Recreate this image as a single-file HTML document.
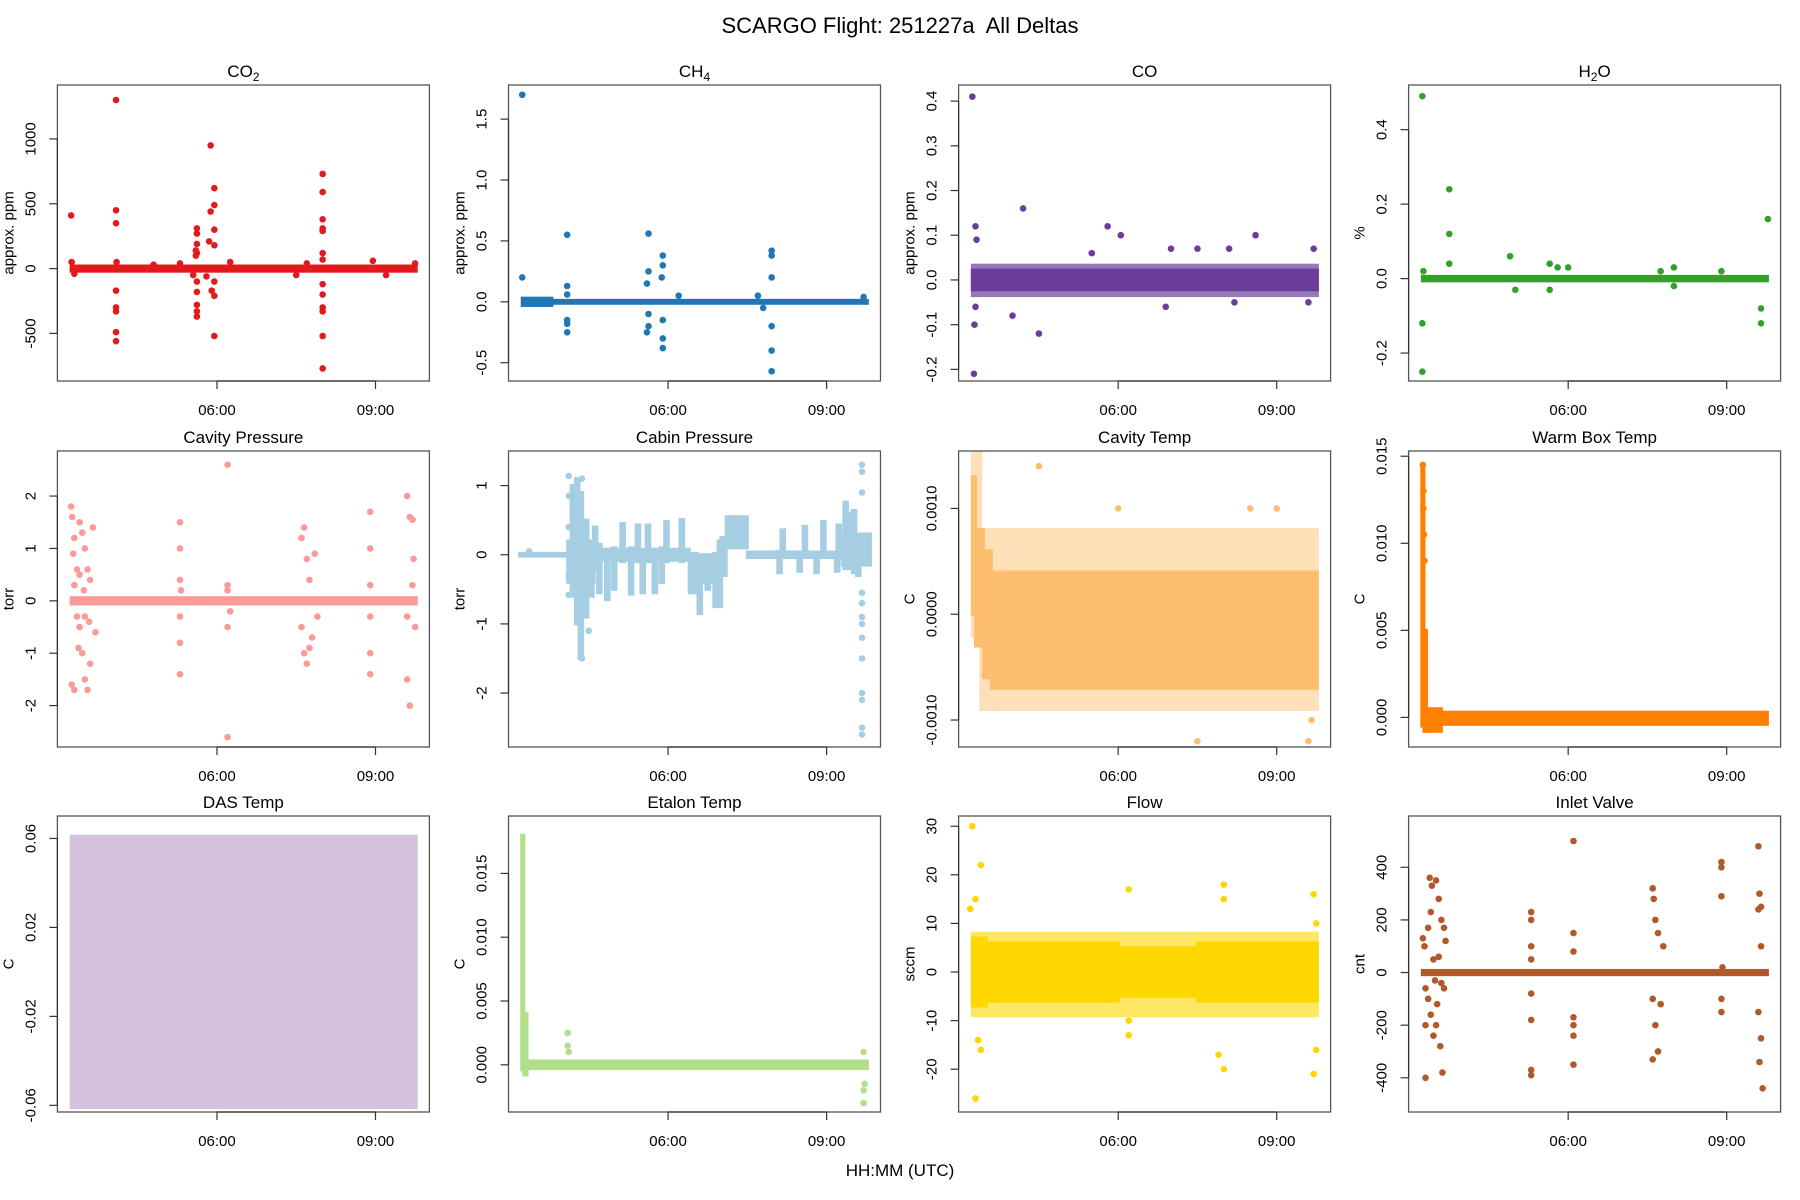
<!DOCTYPE html>
<html><head><meta charset="utf-8"><title>SCARGO Flight 251227a All Deltas</title>
<style>
html,body{margin:0;padding:0;background:#fff;}
svg{display:block;font-family:"Liberation Sans",Arial,sans-serif;}
</style></head>
<body>
<svg id="fig" width="1800" height="1200" viewBox="0 0 1800 1200" xmlns="http://www.w3.org/2000/svg">
<text x="900" y="33" font-size="22" text-anchor="middle" fill="#000" xml:space="preserve" style="white-space:pre">SCARGO Flight: 251227a  All Deltas</text>
<text x="900" y="1176" font-size="17" text-anchor="middle" fill="#000">HH:MM (UTC)</text>
</svg>
<script>
// ---- data (time in decimal hours UTC, values in panel units) ----
const xTickVals = [6, 9];
const xTickLabels = ["06:00", "09:00"];

const co2BandT = [3.24, 9.77];
const co2BandHi = [20, 20];
const co2BandLo = [-20, -20];
const co2Points = [[3.24,410],[4.09,1300],[4.09,450],[4.09,350],[4.09,-170],[4.09,-300],[4.09,-330],[4.09,-490],[4.09,-560],
 [5.62,310],[5.62,270],[5.62,190],[5.6,140],[5.62,120],[5.6,100],[5.62,-100],[5.62,-180],[5.62,-280],[5.62,-330],[5.62,-370],
 [5.88,950],[5.95,620],[5.95,490],[5.88,440],[5.95,300],[5.85,210],[5.95,180],[5.95,-100],[5.9,-170],[5.95,-210],[5.95,-520],
 [8.0,730],[8.0,590],[8.0,380],[8.0,310],[8.0,290],[8.0,120],[8.0,70],[8.0,-120],[8.0,-200],[8.0,-300],[8.0,-330],[8.0,-520],[8.0,-770],
 [3.25,50],[4.1,50],[5.3,40],[5.55,-50],[5.8,-60],[6.25,50],[7.5,-50],[7.7,40],[8.95,60],[9.75,40],[9.2,-50],[3.3,-40],[4.8,30]];

const ch4BandT = [3.24, 3.8, 9.77];
const ch4BandHi = [0.03, 0.012, 0.012];
const ch4BandLo = [-0.03, -0.012, -0.012];
const ch4Points = [[3.24,1.7],[3.24,0.2],[4.09,0.55],[4.09,0.13],[4.09,0.06],[4.09,-0.15],[4.09,-0.18],[4.09,-0.25],
 [5.63,0.56],[5.63,0.25],[5.6,0.15],[5.63,-0.1],[5.63,-0.2],[5.6,-0.25],[5.9,0.38],[5.9,0.3],[5.88,0.2],[5.9,-0.15],[5.9,-0.3],[5.9,-0.38],
 [7.96,0.42],[7.96,0.38],[7.96,0.2],[7.96,-0.2],[7.96,-0.4],[7.96,-0.57],[7.7,0.05],[7.8,-0.05],[6.2,0.05],[9.7,0.04]];

const coBandT = [3.24, 9.77];
const coBandHi = [0.022, 0.022];
const coBandLo = [-0.022, -0.022];
const coOuterT = [3.24, 9.77];
const coOuterHi = [0.033, 0.033];
const coOuterLo = [-0.035, -0.035];
const coPoints = [[3.24,0.41],[3.3,0.12],[3.28,-0.1],[3.27,-0.21],[3.32,0.09],[3.3,-0.06],[4.2,0.16],[4.5,-0.12],[4.0,-0.08],
 [5.8,0.12],[6.05,0.1],[7.0,0.07],[7.5,0.07],[8.1,0.07],[8.6,0.1],[9.7,0.07],[5.5,0.06],[6.9,-0.06],[8.2,-0.05],[9.6,-0.05]];

const h2oBandT = [3.24, 9.77];
const h2oBandHi = [0.006, 0.006];
const h2oBandLo = [-0.006, -0.006];
const h2oPoints = [[3.24,0.49],[3.24,-0.12],[3.24,-0.25],[3.26,0.02],[3.75,0.24],[3.75,0.12],[3.75,0.04],[4.9,0.06],[5.0,-0.03],
 [5.65,0.04],[5.65,-0.03],[5.8,0.03],[6.0,0.03],[7.75,0.02],[8.0,0.03],[8.0,-0.02],[8.9,0.02],[9.65,-0.08],[9.65,-0.12],[9.78,0.16]];

const cavpBandT = [3.24, 9.77];
const cavpBandHi = [0.06, 0.06];
const cavpBandLo = [-0.06, -0.06];
const cavpPoints = [[3.24,1.8],[3.26,1.6],[3.3,1.2],[3.35,0.6],[3.25,-1.6],[3.3,-1.7],[3.4,1.5],[3.45,1.3],[3.5,1.0],[3.55,0.6],[3.4,-0.5],[3.45,-1.0],
 [3.5,-1.5],[3.55,-1.7],[3.6,-1.2],[3.3,0.3],[3.35,-0.3],[3.4,0.5],[3.5,-0.3],[3.6,0.4],[3.65,1.4],[3.7,-0.6],[3.28,0.9],[3.38,-0.9],[3.48,0.2],[3.58,-0.4],
 [5.3,1.5],[5.3,1.0],[5.3,0.4],[5.3,-0.3],[5.3,-0.8],[5.3,-1.4],[5.32,0.2],
 [6.2,2.6],[6.2,0.3],[6.2,0.2],[6.2,-0.5],[6.2,-2.6],[6.25,-0.2],
 [7.6,1.2],[7.65,1.4],[7.7,0.8],[7.75,0.4],[7.6,-0.5],[7.65,-1.0],[7.7,-1.2],[7.8,-0.7],[7.85,0.9],[7.9,-0.3],[7.75,-0.9],
 [8.9,1.7],[8.9,1.0],[8.9,0.3],[8.9,-0.3],[8.9,-1.0],[8.9,-1.4],
 [9.6,2.0],[9.65,1.6],[9.7,1.55],[9.6,-1.5],[9.65,-2.0],[9.7,0.3],[9.6,-0.3],[9.75,-0.5],[9.72,0.8]];

const cabpBandT = [3.19, 4.1, 4.6, 6.4, 6.55, 7.0, 7.1, 7.5, 9.3, 9.83];
const cabpBandHi = [0.02, 0.2, 0.08, 0.02, 0.0, 0.25, 0.55, 0.04, 0.3];
const cabpBandLo = [-0.02, -0.4, -0.08, -0.55, -0.4, -0.3, 0.1, -0.04, -0.15];
const cabpSpikeT = [4.2,4.28,4.35,4.45,4.55,4.62,4.7,4.85,4.98,5.14,5.3,5.43,5.52,5.62,5.75,5.88,5.97,6.26,6.6,6.75,6.9,6.98,8.11,8.17,8.49,8.59,8.81,8.94,9.2,9.23,9.36,9.45,9.52,9.6];
const cabpSpikeHi = [1.0,1.1,0.9,0.5,0.15,0.4,0.15,0.05,0.1,0.45,0.1,0.43,0.05,0.43,0.05,0.1,0.48,0.51,-0.05,0.0,0.02,0.2,0.05,0.36,0.0,0.41,0.0,0.48,0.0,0.43,0.76,0.6,0.64,0.2];
const cabpSpikeLo = [-0.6,-1.0,-1.5,-0.9,-0.6,-0.2,-0.55,-0.65,-0.5,-0.1,-0.57,-0.1,-0.55,-0.1,-0.55,-0.4,-0.1,-0.1,-0.85,-0.5,-0.75,-0.75,-0.26,0.0,-0.24,0.0,-0.26,0.0,-0.24,0.0,-0.2,-0.2,-0.26,-0.3];
const cabpPoints = [[9.67,1.3],[9.67,1.2],[9.67,0.9],[9.67,-0.55],[9.67,-0.7],[9.67,-0.9],[9.67,-1.0],[9.67,-1.2],[9.67,-1.5],[9.67,-2.0],[9.67,-2.1],[9.67,-2.5],[9.67,-2.6],
 [4.12,1.14],[4.12,0.85],[4.12,0.4],[4.12,-0.3],[4.12,-0.58],[4.37,1.1],[4.37,-1.5],[4.5,-1.1],[3.37,0.05]];

const cavtBandT = [3.24, 3.3, 3.45, 3.6, 9.77];
const cavtBandHi = [0.0013, 0.0008, 0.0006, 0.0004, 0.0004];
const cavtBandLo = [0.0, -0.0003, -0.0006, -0.0007, -0.0007];
const cavtOuterT = [3.24, 3.4, 9.77];
const cavtOuterHi = [0.0016, 0.0008, 0.0008];
const cavtOuterLo = [-0.0002, -0.0009, -0.0009];
const cavtPoints = [[3.26,0.0018],[3.27,0.0016],[4.5,0.0014],[7.5,-0.0012],[9.6,-0.0012],[9.66,-0.0010],[6.0,0.0010],[8.5,0.0010],[9.0,0.0010]];

const wbBandT = [3.23, 3.27, 3.32, 3.6, 9.77];
const wbBandHi = [0.0145, 0.005, 0.0005, 0.0003, 0.0003];
const wbBandLo = [-0.0005, -0.0008, -0.0008, -0.0004, -0.0004];
const wbPoints = [[3.25,0.0145],[3.26,0.013],[3.26,0.012],[3.27,0.0105],[3.28,0.009]];

const dasBandT = [3.24, 9.77];
const dasBandHi = [0.061, 0.061];
const dasBandLo = [-0.061, -0.061];
const dasPoints = [];

const etBandT = [3.23, 3.27, 3.33, 9.77];
const etBandHi = [0.018, 0.004, 0.0003, 0.0003];
const etBandLo = [-0.0004, -0.0008, -0.0003, -0.0003];
const etPoints = [[4.1,0.0025],[4.1,0.0015],[4.12,0.001],[9.7,-0.002],[9.7,-0.003],[9.7,0.001],[9.72,-0.0015]];

const flowBandT = [3.24, 3.5, 6.0, 7.5, 9.77];
const flowBandHi = [7, 6, 5, 6, 6];
const flowBandLo = [-7, -6, -5, -6, -6];
const flowOuterT = [3.24, 9.77];
const flowOuterHi = [8, 8];
const flowOuterLo = [-9, -9];
const flowPoints = [[3.24,30],[3.4,22],[3.3,15],[3.35,-14],[3.4,-16],[3.3,-26],[3.2,13],[6.2,17],[6.2,-13],[6.2,-10],[8.0,15],[8.0,18],
 [7.9,-17],[8.0,-20],[9.7,16],[9.7,-21],[9.75,-16],[9.75,10]];

const inletBandT = [3.24, 9.77];
const inletBandHi = [8, 8];
const inletBandLo = [-8, -8];
const inletPoints = [[3.25,130],[3.28,100],[3.3,-200],[3.3,-400],[3.35,170],[3.38,360],[3.4,-160],[3.42,330],[3.45,50],[3.48,-30],[3.5,350],[3.52,-120],
 [3.55,280],[3.58,-280],[3.6,200],[3.62,-380],[3.65,-60],[3.68,120],[3.3,-60],[3.35,-100],[3.45,-240],[3.55,60],[3.6,-40],[3.4,230],[3.5,-200],[3.65,170],
 [5.3,230],[5.3,200],[5.3,100],[5.3,50],[5.3,-80],[5.3,-180],[5.3,-370],[5.3,-390],
 [6.1,500],[6.1,150],[6.1,80],[6.1,-170],[6.1,-200],[6.1,-240],[6.1,-350],
 [7.6,320],[7.62,280],[7.65,200],[7.7,150],[7.6,-100],[7.65,-200],[7.7,-300],[7.6,-330],[7.75,-120],[7.8,100],
 [8.9,420],[8.9,400],[8.9,290],[8.9,-100],[8.9,-150],[8.92,20],
 [9.6,480],[9.62,300],[9.65,250],[9.6,240],[9.65,100],[9.6,-150],[9.65,-250],[9.62,-340],[9.68,-440]];

// ---- layout ----
const colX = [57.4, 508.5, 958.6, 1408.6];
const rowY = [85, 451, 816];
const PW = 372, PH = 296;
const XMIN = 2.98, XMAX = 10.02;
const R = 3.3;
const PAD = 1.5;

const panels = [
  {name:"co2", title:["CO","2",""], ylab:"approx. ppm", color:"#E31A1C", ylim:[-867,1416], ticks:[-500,0,500,1000], tl:["-500","0","500","1000"], bT:co2BandT,bH:co2BandHi,bL:co2BandLo, pts:co2Points},
  {name:"ch4", title:["CH","4",""], ylab:"approx. ppm", color:"#1F78B4", ylim:[-0.65,1.78], ticks:[-0.5,0,0.5,1,1.5], tl:["-0.5","0.0","0.5","1.0","1.5"], bT:ch4BandT,bH:ch4BandHi,bL:ch4BandLo, pts:ch4Points},
  {name:"co", title:["CO","",""], ylab:"approx. ppm", color:"#6A3D9A", ylim:[-0.226,0.436], ticks:[-0.2,-0.1,0,0.1,0.2,0.3,0.4], tl:["-0.2","-0.1","0.0","0.1","0.2","0.3","0.4"], bT:coBandT,bH:coBandHi,bL:coBandLo, oT:coOuterT,oH:coOuterHi,oL:coOuterLo, oOp:0.7, pts:coPoints},
  {name:"h2o", title:["H","2","O"], ylab:"%", color:"#33A02C", ylim:[-0.275,0.52], ticks:[-0.2,0,0.2,0.4], tl:["-0.2","0.0","0.2","0.4"], bT:h2oBandT,bH:h2oBandHi,bL:h2oBandLo, pts:h2oPoints},
  {name:"cavity-pressure", title:["Cavity Pressure","",""], ylab:"torr", color:"#FB9A99", ylim:[-2.79,2.86], ticks:[-2,-1,0,1,2], tl:["-2","-1","0","1","2"], bT:cavpBandT,bH:cavpBandHi,bL:cavpBandLo, pts:cavpPoints},
  {name:"cabin-pressure", title:["Cabin Pressure","",""], ylab:"torr", color:"#A6CEE3", ylim:[-2.78,1.5], ticks:[-2,-1,0,1], tl:["-2","-1","0","1"], bT:cabpBandT,bH:cabpBandHi,bL:cabpBandLo, sT:cabpSpikeT,sH:cabpSpikeHi,sL:cabpSpikeLo, pts:cabpPoints},
  {name:"cavity-temp", title:["Cavity Temp","",""], ylab:"C", color:"#FDBF6F", ylim:[-0.001255,0.001543], ticks:[-0.001,0,0.001], tl:["-0.0010","0.0000","0.0010"], bT:cavtBandT,bH:cavtBandHi,bL:cavtBandLo, oT:cavtOuterT,oH:cavtOuterHi,oL:cavtOuterLo, oOp:0.5, pts:cavtPoints},
  {name:"warm-box-temp", title:["Warm Box Temp","",""], ylab:"C", color:"#FF7F00", ylim:[-0.0017,0.0153], ticks:[0,0.005,0.01,0.015], tl:["0.000","0.005","0.010","0.015"], bT:wbBandT,bH:wbBandHi,bL:wbBandLo, pts:wbPoints},
  {name:"das-temp", title:["DAS Temp","",""], ylab:"C", color:"#CAB2D6", ylim:[-0.063,0.0701], ticks:[-0.06,-0.02,0.02,0.06], tl:["-0.06","-0.02","0.02","0.06"], bT:dasBandT,bH:dasBandHi,bL:dasBandLo, bOp:0.8, pts:dasPoints},
  {name:"etalon-temp", title:["Etalon Temp","",""], ylab:"C", color:"#B2DF8A", ylim:[-0.0037,0.0195], ticks:[0,0.005,0.01,0.015], tl:["0.000","0.005","0.010","0.015"], bT:etBandT,bH:etBandHi,bL:etBandLo, pts:etPoints},
  {name:"flow", title:["Flow","",""], ylab:"sccm", color:"#FFD700", ylim:[-28.8,32.1], ticks:[-20,-10,0,10,20,30], tl:["-20","-10","0","10","20","30"], bT:flowBandT,bH:flowBandHi,bL:flowBandLo, oT:flowOuterT,oH:flowOuterHi,oL:flowOuterLo, oOp:0.6, pts:flowPoints},
  {name:"inlet-valve", title:["Inlet Valve","",""], ylab:"cnt", color:"#B15928", ylim:[-530,595], ticks:[-400,-200,0,200,400], tl:["-400","-200","0","200","400"], bT:inletBandT,bH:inletBandHi,bL:inletBandLo, pts:inletPoints}
];

const NS = "http://www.w3.org/2000/svg";
const svg = document.getElementById("fig");
function mk(tag, attrs, parent){ const e=document.createElementNS(NS,tag); for(const k in attrs) e.setAttribute(k,attrs[k]); parent.appendChild(e); return e; }

panels.forEach((p, i) => {
  const px = colX[i % 4], py = rowY[Math.floor(i / 4)];
  const xs = t => px + (t - XMIN) / (XMAX - XMIN) * PW;
  const ys = v => py + PH - (v - p.ylim[0]) / (p.ylim[1] - p.ylim[0]) * PH;
  const g = mk("g", {}, svg);
  
  

  const tt = mk("text", {x: px + PW/2, y: py - 8, "font-size": 17, "text-anchor": "middle", fill: "#000"}, g);
  
  
  tt.appendChild(document.createTextNode(p.title[0]));
  if (p.title[1]) { const s = mk("tspan", {"font-size": 12, dy: 4}, tt); s.textContent = p.title[1]; }
  if (p.title[2]) { const s = mk("tspan", {dy: -4}, tt); s.textContent = p.title[2]; }

  const clip = "clip" + i;
  const cp = mk("clipPath", {id: clip}, g);
  mk("rect", {x: px, y: py, width: PW, height: PH}, cp);
  const dg = mk("g", {"clip-path": "url(#" + clip + ")"}, g);
  
  

  function bar(x0, x1, hi, lo, op, nm){
    const y0 = ys(hi) - PAD, y1 = ys(lo) + PAD;
    const r = mk("rect", {x: x0, y: y0, width: Math.max(1, x1 - x0), height: Math.max(1, y1 - y0), fill: p.color, "fill-opacity": op}, dg);
    
    
  }
  function bands(T, H, L, op, nm){
    for (let k = 0; k < T.length - 1; k++) bar(xs(T[k]) - PAD, xs(T[k+1]) + PAD, H[k], L[k], op, nm);
  }
  if (p.oT) bands(p.oT, p.oH, p.oL, p.oOp, p.name + '-scatter-envelope');
  bands(p.bT, p.bH, p.bL, p.bOp || 1, p.name + '-dense-band');
  if (p.sT) p.sT.forEach((t, k) => bar(xs(t) - R, xs(t) + R, p.sH[k], p.sL[k], 1, p.name + '-spike'));
  p.pts.forEach(pt => {
    const c = mk("circle", {cx: xs(pt[0]), cy: ys(pt[1]), r: R, fill: p.color}, dg);
    
    
  });

  const box = mk("rect", {x: px, y: py, width: PW, height: PH, fill: "none", stroke: "#555", "stroke-width": 1.3}, g);
  
  

  xTickVals.forEach((tv, k) => {
    const x = xs(tv);
    mk("line", {x1: x, y1: py + PH, x2: x, y2: py + PH + 8, stroke: "#333", "stroke-width": 1.2}, g);
    const lb = mk("text", {x: x, y: py + PH + 34, "font-size": 15, "text-anchor": "middle", fill: "#000"}, g);
    
    
    lb.textContent = xTickLabels[k];
  });
  mk("line", {x1: xs(xTickVals[0]), y1: py + PH, x2: xs(xTickVals[1]), y2: py + PH, stroke: "#333", "stroke-width": 1.2}, g);

  p.ticks.forEach((tv, k) => {
    const y = ys(tv);
    mk("line", {x1: px, y1: y, x2: px - 8, y2: y, stroke: "#333", "stroke-width": 1.2}, g);
    const lb = mk("text", {x: px - 22, y: y, "font-size": 15, "text-anchor": "middle", fill: "#000", transform: "rotate(-90 " + (px - 22) + " " + y + ")"}, g);
    
    
    lb.textContent = p.tl[k];
  });
  const yl = ys(p.ticks[0]), yh = ys(p.ticks[p.ticks.length - 1]);
  mk("line", {x1: px, y1: yl, x2: px, y2: yh, stroke: "#333", "stroke-width": 1.2}, g);
  const ax = px - 44, ay = py + PH / 2;
  const yt = mk("text", {x: ax, y: ay, "font-size": 15, "text-anchor": "middle", fill: "#000", transform: "rotate(-90 " + ax + " " + ay + ")"}, g);
  
  
  yt.textContent = p.ylab;
});
</script>
</body></html>
